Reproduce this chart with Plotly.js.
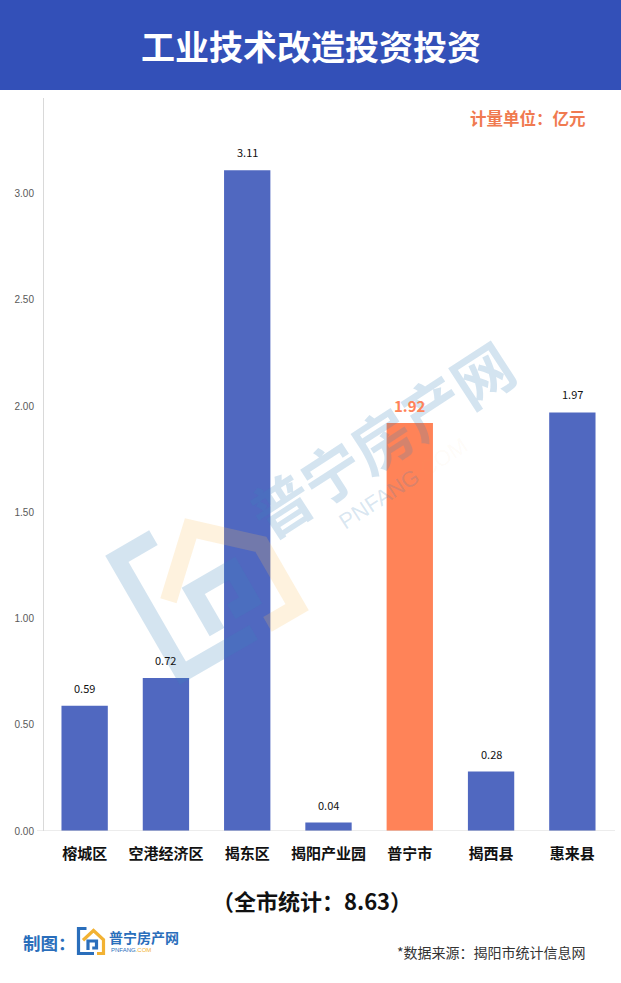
<!DOCTYPE html>
<html><head><meta charset="utf-8">
<script src="https://cdn.plot.ly/plotly-3.0.1.min.js"></script>
<style>html,body{margin:0;padding:0;background:#fff;}#chart{width:621px;height:983px;}</style>
</head><body><div id="chart"></div>
<script>
const categories = ['榕城区','空港经济区','揭东区','揭阳产业园','普宁市','揭西县','惠来县'];
const values = [0.59, 0.72, 3.11, 0.04, 1.92, 0.28, 1.97];
const highlight = '普宁市';
const tickVals = [0, 0.5, 1.0, 1.5, 2.0, 2.5, 3.0];
const totalText = '（全市统计：8.63）';

const FONT = '"Noto Sans CJK SC", "Noto Sans", sans-serif';
const BLUE = '#5068C0', ORANGE = '#FF8358';
const L = 44, T = 98, PW = 569, PH = 733;
const px = (x, y) => [(x - L) / PW, (T + PH - y) / PH];

const colors = categories.map(c => c === highlight ? ORANGE : BLUE);

const valueAnns = categories.map((c, i) => ({
  x: c, y: values[i], xref: 'x', yref: 'y',
  text: values[i].toFixed(2), showarrow: false, yanchor: 'bottom', yshift: c === highlight ? 5 : 8,
  font: c === highlight ? {family: FONT, size: 15, color: ORANGE, weight: 700} : {family: FONT, size: 11, color: '#111'}
}));

// logo drawn as rotated paths (layout decoration)
function logoShapes(cx, cy, S, deg, cBlue, cOrange, w) {
  const t = deg * Math.PI / 180, c = Math.cos(t), s = Math.sin(t);
  const tr = (u, v) => { const x = (u - 0.5) * S, y = (v - 0.5) * S; return px(cx + x * c + y * s, cy - x * s + y * c); };
  const path = pts => pts.map((p, i) => (i ? 'L' : 'M') + tr(p[0], p[1]).join(',')).join(' ');
  const mk = (pts, col) => ({type: 'path', xref: 'paper', yref: 'paper', path: path(pts), line: {color: col, width: w}, layer: 'above'});
  return [
    mk([[0.32, 0], [0, 0], [0, 1], [0.62, 1]], cBlue),
    mk([[0.18, 0.47], [0.6, 0.08], [1, 0.45], [1, 1], [0.74, 1]], cOrange),
    mk([[0.38, 0.86], [0.38, 0.5], [0.72, 0.5], [0.72, 0.78], [0.55, 0.78]], cBlue)
  ];
}

const p = (x, y) => px(x, y);
const ann = (x, y, text, font, xa, extra) => Object.assign({xref: 'paper', yref: 'paper', x: p(x, y)[0], y: p(x, y)[1], text, showarrow: false, font, xanchor: xa || 'center', yanchor: 'middle'}, extra || {});

const layout = {
  width: 621, height: 983,
  margin: {l: L, r: 621 - L - PW, t: T, b: 983 - T - PH},
  paper_bgcolor: '#fff', plot_bgcolor: 'rgba(0,0,0,0)',
  showlegend: false,
  bargap: 0.43,
  font: {family: FONT},
  xaxis: {
    type: 'category', showline: false, showgrid: false, ticks: '',
    tickfont: {family: FONT, size: 15, color: '#111', weight: 700},
    ticklabelstandoff: 12, fixedrange: true
  },
  yaxis: {
    range: [0, 3.45], tickvals: tickVals, tickformat: '.2f',
    showgrid: false, zeroline: false, showline: true, linecolor: '#d9d9d9', linewidth: 1,
    ticks: '', tickfont: {family: 'Liberation Sans, Arial, sans-serif', size: 10, color: '#595959'},
    ticklabelstandoff: 7, fixedrange: true
  },
  shapes: [
    {type: 'rect', xref: 'paper', yref: 'paper', x0: p(-5, 0)[0], x1: p(630, 0)[0], y0: p(0, 90)[1], y1: p(0, -5)[1], fillcolor: '#3350B8', line: {width: 0}, layer: 'below'},
    {type: 'line', xref: 'paper', yref: 'y', x0: p(37, 0)[0], x1: p(615, 0)[0], y0: 0, y1: 0, line: {color: '#d9d9d9', width: 1.2}}
  ].concat(
    logoShapes(207, 583, 132, 30, 'rgba(60,130,185,0.22)', 'rgba(250,190,90,0.2)', 17),
    logoShapes(91, 941, 25, 0, '#2A6EBB', '#F2B233', 3.2)
  ),
  annotations: [
    ann(311, 45, '<b>工业技术改造投资投资</b>', {family: FONT, size: 34, color: '#fff'}),
    ann(588, 118, '<b>计量单位：亿元</b>', {family: FONT, size: 16.5, color: '#F07A50'}, 'right'),
    // watermark
    ann(380, 437, '<b>普宁房产网</b>', {family: FONT, size: 60, color: 'rgba(60,130,185,0.22)'}, 'center', {textangle: -33}),
    ann(403, 483, 'PNFANG<span style="color:rgba(250,190,90,0.25)">.COM</span>', {family: 'Liberation Sans, sans-serif', size: 22, color: 'rgba(60,130,185,0.2)'}, 'center', {textangle: -33}),
    // total
    ann(312, 900, '<b>' + totalText + '</b>', {family: FONT, size: 22, color: '#111'}),
    // footer
    ann(21, 942, '<b>制图：</b>', {family: FONT, size: 17.5, color: '#2A6EBB'}, 'left'),
    ann(107, 937, '<b>普宁房产网</b>', {family: FONT, size: 14, color: '#2A6EBB'}, 'left'),
    ann(109, 950, 'PNFANG<span style="color:#F2B233">.COM</span>', {family: 'Liberation Sans, sans-serif', size: 6, color: '#2A6EBB'}, 'left'),
    ann(588, 952, '*数据来源：揭阳市统计信息网', {family: FONT, size: 14, color: '#333'}, 'right')
  ].concat(valueAnns)
};

const trace = {
  type: 'bar', x: categories, y: values,
  marker: {color: colors, line: {width: 0}},
  hoverinfo: 'none', cliponaxis: false
};

Plotly.newPlot('chart', [trace], layout, {displayModeBar: false, staticPlot: true});
</script></body></html>
